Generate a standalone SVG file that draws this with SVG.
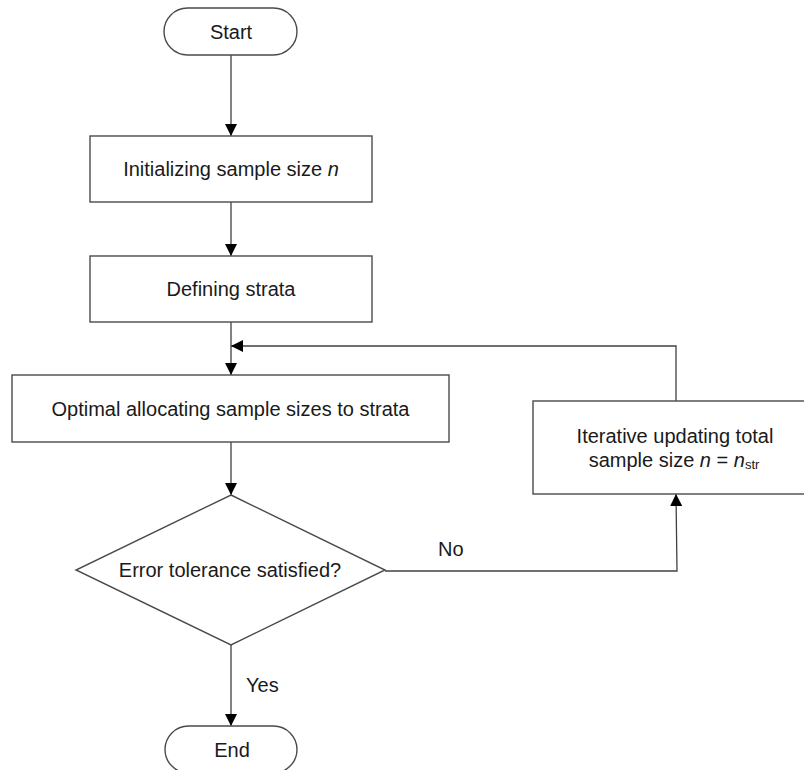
<svg xmlns="http://www.w3.org/2000/svg" width="804" height="770" viewBox="0 0 804 770">
<style>
.shape{fill:#ffffff;stroke:#4a4a4a;stroke-width:1.4}
.conn{fill:none;stroke:#404040;stroke-width:1.3}
.t{font-family:"Liberation Sans",Arial,sans-serif;font-size:20px;fill:#1a1a1a;text-anchor:middle}
.lbl{font-family:"Liberation Sans",Arial,sans-serif;font-size:20px;fill:#1a1a1a}
</style>
<defs>
<marker id="arr" markerUnits="userSpaceOnUse" markerWidth="12" markerHeight="12" viewBox="0 0 12 12" refX="12" refY="6" orient="auto">
<path d="M0,0 L12,6 L0,12 z" fill="#000000"/>
</marker>
</defs>
<rect width="804" height="770" fill="#ffffff"/>
<g id="connectors">
<line class="conn" x1="231" y1="55" x2="231" y2="136" marker-end="url(#arr)"/>
<line class="conn" x1="231" y1="202" x2="231" y2="256" marker-end="url(#arr)"/>
<line class="conn" x1="231" y1="322" x2="231" y2="375" marker-end="url(#arr)"/>
<polyline class="conn" points="676,401 676,346 231,346" marker-end="url(#arr)"/>
<line class="conn" x1="231" y1="442" x2="231" y2="495" marker-end="url(#arr)"/>
<polyline class="conn" points="385,571 677,571 676,494" marker-end="url(#arr)"/>
<line class="conn" x1="231" y1="645" x2="231" y2="726" marker-end="url(#arr)"/>
<text class="lbl" x="438" y="556">No</text>
<text class="lbl" x="246" y="692">Yes</text>
</g>
<g id="start">
<rect class="shape" x="164" y="8" width="133" height="47" rx="23.5" ry="23.5"/>
<text class="t" x="231" y="38.5">Start</text>
</g>
<g id="init">
<rect class="shape" x="90" y="136" width="282" height="66"/>
<text class="t" x="231" y="176">Initializing sample size <tspan font-style="italic">n</tspan></text>
</g>
<g id="strata">
<rect class="shape" x="90" y="256" width="282" height="66"/>
<text class="t" x="231" y="296">Defining strata</text>
</g>
<g id="allocate">
<rect class="shape" x="12" y="375" width="437" height="67"/>
<text class="t" x="230.5" y="415.5">Optimal allocating sample sizes to strata</text>
</g>
<g id="update">
<rect class="shape" x="533" y="401" width="282" height="93"/>
<text class="t" x="675" y="443">Iterative updating total</text>
<text class="t" x="674" y="467">sample size <tspan font-style="italic">n</tspan> = <tspan font-style="italic">n</tspan><tspan font-size="13" dy="2">str</tspan></text>
</g>
<g id="decision">
<polygon class="shape" points="231,495 385,570 231,645 76,570"/>
<text class="t" x="230" y="577">Error tolerance satisfied?</text>
</g>
<g id="end">
<rect class="shape" x="165" y="726" width="132" height="47" rx="23.5" ry="23.5"/>
<text class="t" x="232" y="756.5">End</text>
</g>
</svg>
